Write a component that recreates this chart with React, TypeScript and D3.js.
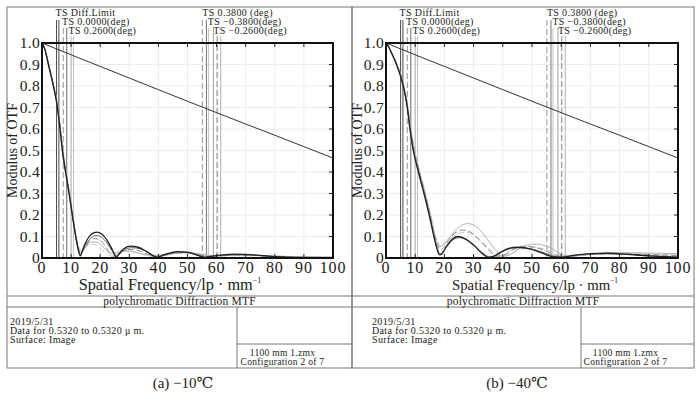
import React from 'react';
import * as d3 from 'd3';

// ---- data ----
const xTicks = [0, 10, 20, 30, 40, 50, 60, 70, 80, 90, 100];
const yTicks = [0, 0.1, 0.2, 0.3, 0.4, 0.5, 0.6, 0.7, 0.8, 0.9, 1.0];
const yTickLabels = ['0', '0.1', '0.2', '0.3', '0.4', '0.5', '0.6', '0.7', '0.8', '0.9', '1.0'];

const legendLabels = ['TS Diff.Limit', 'TS 0.0000(deg)', 'TS 0.2600(deg)'];
const legendLabels2 = ['TS 0.3800 (deg)', 'TS \u22120.3800(deg)', 'TS \u22120.2600(deg)'];
// legend marker lines, frequency units
const legendLinesA = [5.0, 5.8, 7.3, 8.5, 10.0, 10.8];
const legendLinesB = [55.1, 56.5, 57.2, 58.9, 60.2, 61.4];

const diffLimit: [number, number][] = [
  [0, 1], [10, 0.945], [20, 0.891], [30, 0.837], [40, 0.783], [50, 0.729],
  [60, 0.676], [70, 0.623], [80, 0.571], [90, 0.518], [100, 0.465],
];

// (a) -10 C
const a1: [number, number][] = [
  [0, 1], [1, 0.97], [2.2, 0.9], [3.9, 0.8], [5.3, 0.7], [6.2, 0.6], [7.0, 0.5], [8.1, 0.4],
  [9.3, 0.3], [10.4, 0.2], [11.6, 0.1], [12.6, 0.03], [13.2, 0.01], [14, 0.04], [15.5, 0.085],
  [17, 0.11], [18.8, 0.12], [20.5, 0.112], [22.5, 0.08], [24.3, 0.035], [25.5, 0.005],
  [26.5, 0.02], [28, 0.042], [30.3, 0.055], [33, 0.05], [36, 0.03], [39.5, 0.003], [41, 0.01],
  [43, 0.02], [46.5, 0.03], [50, 0.027], [53, 0.015], [56, 0.003], [58, 0.008], [62, 0.015],
  [66, 0.018], [70, 0.017], [75, 0.012], [80, 0.006], [85, 0.003], [90, 0.002], [100, 0.001],
];
const a2: [number, number][] = [
  [0, 1], [1, 0.97], [2.2, 0.9], [3.9, 0.8], [5.3, 0.7], [6.2, 0.6], [7.0, 0.5], [8.1, 0.4],
  [9.3, 0.3], [10.4, 0.2], [11.6, 0.1], [12.6, 0.035], [13.3, 0.015], [14.2, 0.04], [15.7, 0.075],
  [17, 0.095], [18.5, 0.105], [20.3, 0.098], [22.3, 0.07], [24.2, 0.03], [25.6, 0.005],
  [26.8, 0.02], [28.5, 0.04], [31, 0.048], [34, 0.042], [37, 0.022], [40, 0.004], [42, 0.012],
  [44, 0.02], [47, 0.027], [50.5, 0.024], [54, 0.012], [57, 0.003], [59, 0.008], [63, 0.013],
  [67, 0.016], [71, 0.015], [76, 0.01], [81, 0.005], [88, 0.003], [100, 0.002],
];
const a3: [number, number][] = [
  [0, 1], [1, 0.97], [2.3, 0.9], [4.0, 0.8], [5.4, 0.7], [6.3, 0.6], [7.1, 0.5], [8.2, 0.4],
  [9.4, 0.3], [10.5, 0.2], [11.6, 0.1], [12.5, 0.04], [13.3, 0.02], [14.3, 0.04], [15.8, 0.07],
  [18, 0.09], [19.8, 0.085], [21.5, 0.06], [23, 0.03], [24.5, 0.008], [25.8, 0.015],
  [27.5, 0.03], [30, 0.04], [33, 0.035], [36, 0.02], [39, 0.008], [42, 0.012], [45, 0.022],
  [49, 0.025], [53, 0.018], [57, 0.008], [61, 0.01], [66, 0.014], [72, 0.012], [80, 0.007],
  [90, 0.004], [100, 0.003],
];
const a4: [number, number][] = [
  [0, 1], [1, 0.97], [2.3, 0.9], [4.0, 0.8], [5.4, 0.7], [6.3, 0.6], [7.2, 0.5], [8.3, 0.4],
  [9.5, 0.3], [10.6, 0.2], [11.7, 0.1], [12.6, 0.045], [13.4, 0.025], [14.5, 0.04], [16, 0.065],
  [17.5, 0.075], [19.5, 0.068], [21.5, 0.045], [23.5, 0.022], [25.5, 0.025], [28, 0.035],
  [31, 0.03], [34, 0.02], [38, 0.012], [42, 0.016], [46, 0.024], [50, 0.026], [54, 0.02],
  [58, 0.012], [63, 0.012], [70, 0.013], [78, 0.01], [88, 0.006], [100, 0.004],
];
const a5: [number, number][] = [
  [0, 1], [1, 0.97], [2.3, 0.9], [4.1, 0.8], [5.5, 0.7], [6.4, 0.6], [7.2, 0.5], [8.3, 0.4],
  [9.5, 0.3], [10.6, 0.2], [11.7, 0.1], [12.7, 0.05], [13.6, 0.035], [15, 0.055], [17, 0.065],
  [18.8, 0.058], [20.5, 0.04], [22.5, 0.018], [24, 0.008], [26, 0.02], [29, 0.032],
  [32, 0.028], [35, 0.015], [38.5, 0.006], [42, 0.012], [46, 0.02], [51, 0.022], [55, 0.015],
  [59, 0.008], [65, 0.01], [72, 0.011], [80, 0.008], [90, 0.005], [100, 0.004],
];

// (b) -40 C
const b1: [number, number][] = [
  [0, 1], [1, 0.98], [2, 0.95], [3.6, 0.9], [5.9, 0.8], [7.3, 0.7], [8.2, 0.6], [9.35, 0.5],
  [11.1, 0.4], [13, 0.3], [14.8, 0.2], [16.4, 0.1], [17.5, 0.04], [18.3, 0.015], [19.2, 0.02],
  [20.5, 0.05], [22.5, 0.085], [24.7, 0.1], [27, 0.09], [30, 0.06], [33, 0.02], [35, 0.003],
  [36.5, 0.006], [39, 0.025], [42, 0.045], [45, 0.05], [50, 0.04], [54, 0.02], [57.5, 0.005],
  [60, 0.003], [64, 0.012], [70, 0.02], [76, 0.022], [82, 0.018], [90, 0.01], [100, 0.004],
];
const b2: [number, number][] = [
  [0, 1], [1, 0.98], [2, 0.95], [3.6, 0.9], [5.9, 0.8], [7.3, 0.7], [8.2, 0.6], [9.4, 0.5],
  [11.2, 0.4], [13.1, 0.3], [14.9, 0.2], [16.5, 0.1], [17.6, 0.045], [18.5, 0.02], [19.5, 0.03],
  [21, 0.055], [23, 0.085], [25.2, 0.095], [27.5, 0.085], [30.5, 0.055], [33.5, 0.02],
  [35.5, 0.005], [37.5, 0.01], [40, 0.03], [43, 0.045], [46, 0.048], [51, 0.038], [55, 0.02],
  [58.5, 0.006], [61, 0.005], [65, 0.013], [71, 0.019], [77, 0.02], [84, 0.015], [92, 0.008],
  [100, 0.004],
];
const b3: [number, number][] = [
  [0, 1], [1, 0.98], [2.1, 0.95], [3.7, 0.9], [6.0, 0.8], [7.4, 0.7], [8.4, 0.6], [9.6, 0.5],
  [11.4, 0.4], [13.3, 0.3], [15.1, 0.2], [16.7, 0.1], [17.8, 0.055], [18.6, 0.038], [19.8, 0.05],
  [21.5, 0.085], [24, 0.12], [26.5, 0.13], [29, 0.12], [32, 0.085], [35, 0.04], [38, 0.008],
  [40, 0.012], [43, 0.035], [47, 0.055], [51, 0.05], [55, 0.03], [59, 0.01], [62, 0.006],
  [67, 0.013], [74, 0.019], [80, 0.02], [88, 0.016], [100, 0.012],
];
const b4: [number, number][] = [
  [0, 1], [1, 0.98], [2.1, 0.95], [3.8, 0.9], [6.1, 0.8], [7.5, 0.7], [8.5, 0.6], [9.8, 0.5],
  [11.6, 0.4], [13.5, 0.3], [15.3, 0.2], [16.9, 0.1], [17.8, 0.07], [18.5, 0.052], [19.8, 0.065],
  [22, 0.1], [25, 0.145], [28, 0.16], [31, 0.145], [34, 0.1], [37, 0.045], [40, 0.008],
  [42, 0.012], [45, 0.04], [48, 0.058], [51, 0.065], [55, 0.055], [58.5, 0.03], [61, 0.012],
  [64, 0.01], [70, 0.018], [78, 0.025], [86, 0.024], [100, 0.02],
];
const b5: [number, number][] = [
  [0, 1], [1, 0.98], [2.1, 0.95], [3.8, 0.9], [6.1, 0.8], [7.5, 0.7], [8.5, 0.6], [9.7, 0.5],
  [11.5, 0.4], [13.4, 0.3], [15.2, 0.2], [16.8, 0.1], [17.8, 0.065], [18.6, 0.055], [20, 0.065],
  [22.5, 0.095], [25, 0.115], [27.5, 0.12], [30.5, 0.1], [33.5, 0.065], [36.5, 0.03],
  [39.5, 0.01], [42.5, 0.02], [46, 0.04], [50, 0.05], [54, 0.042], [58, 0.022], [61, 0.01],
  [65, 0.012], [72, 0.018], [80, 0.021], [90, 0.017], [100, 0.013],
];

const seriesA = [a5, a4, a3, a2, a1];
const seriesB = [b5, b4, b3, b2, b1];
const seriesStyle = [
  { stroke: '#c4c4c4', dash: '6,3' },
  { stroke: '#b0b0b0', dash: '' },
  { stroke: '#8a8a8a', dash: '6,3' },
  { stroke: '#666', dash: '' },
  { stroke: '#222', dash: '' },
];
const legendStyle = [
  { stroke: '#333', dash: '' },
  { stroke: '#333', dash: '' },
  { stroke: '#888', dash: '6,3' },
  { stroke: '#555', dash: '' },
  { stroke: '#aaa', dash: '' },
  { stroke: '#bbb', dash: '' },
];
const legendStyleB = [
  { stroke: '#888', dash: '6,3' },
  { stroke: '#666', dash: '' },
  { stroke: '#bbb', dash: '' },
  { stroke: '#999', dash: '' },
  { stroke: '#777', dash: '6,3' },
  { stroke: '#aaa', dash: '' },
];

const serif = '"Liberation Serif", "DejaVu Serif", serif';

type PanelProps = {
  left: number;
  right: number;
  plotLeft: number;
  plotRight: number;
  series: [number, number][][];
  caption: string;
  captionX: number;
  textInset: number;
  divider: number;
  titleX: number;
  titleSize: number;
};

const Panel = ({ left, right, plotLeft, plotRight, series, caption, captionX, textInset, divider, titleX, titleSize }: PanelProps) => {
  const top = 7;
  const plotTop = 43;
  const plotBottom = 258;
  const x = d3.scaleLinear().domain([0, 100]).range([plotLeft, plotRight]);
  const y = d3.scaleLinear().domain([0, 1]).range([plotBottom, plotTop]);
  const line = d3.line<[number, number]>()
    .x(d => x(d[0]))
    .y(d => y(d[1]))
    .curve(d3.curveMonotoneX);
  const mid = (left + right) / 2;
  const legendY = [16, 25, 34];
  const legendLineTop = [20, 20, 28, 28, 36, 36];
  const boxRightX = (divider + right) / 2 - 12;

  return (
    <g>
      {/* outer frame */}
      <rect x={left} y={top} width={right - left} height={368 - top} fill="none" stroke="#777" strokeWidth={1} />
      <line x1={left} x2={right} y1={296} y2={296} stroke="#777" />
      <line x1={left} x2={right} y1={307} y2={307} stroke="#777" />
      <line x1={divider} x2={divider} y1={307} y2={368} stroke="#777" />
      <line x1={divider} x2={right} y1={344} y2={344} stroke="#777" />

      {/* grid */}
      {xTicks.map(t => (
        <line key={'gx' + t} x1={x(t)} x2={x(t)} y1={plotTop} y2={plotBottom} stroke="#ececec" />
      ))}
      {yTicks.map(t => (
        <line key={'gy' + t} x1={plotLeft} x2={plotRight} y1={y(t)} y2={y(t)} stroke="#ececec" />
      ))}

      {/* legend marker lines */}
      {legendLinesA.map((v, i) => (
        <line key={'la' + i} x1={x(v)} x2={x(v)} y1={legendLineTop[i]} y2={plotBottom}
          stroke={legendStyle[i].stroke} strokeDasharray={legendStyle[i].dash} strokeWidth={0.9} />
      ))}
      {legendLinesB.map((v, i) => (
        <line key={'lb' + i} x1={x(v)} x2={x(v)} y1={legendLineTop[i]} y2={plotBottom}
          stroke={legendStyleB[i].stroke} strokeDasharray={legendStyleB[i].dash} strokeWidth={0.9} />
      ))}

      {/* curves */}
      {series.map((s, i) => (
        <path key={'s' + i} d={line(s) || ''} fill="none" stroke={seriesStyle[i].stroke}
          strokeDasharray={seriesStyle[i].dash} strokeWidth={i === 4 ? 1.3 : 1} />
      ))}
      <path d={line(diffLimit) || ''} fill="none" stroke="#333" strokeWidth={1} />

      {/* ticks */}
      {xTicks.map(t => (
        <g key={'tx' + t}>
          <line x1={x(t)} x2={x(t)} y1={plotBottom} y2={plotBottom - 4} stroke="#222" />
          <line x1={x(t)} x2={x(t)} y1={plotTop} y2={plotTop + 4} stroke="#222" />
          <text x={x(t)} y={plotBottom + 15} textAnchor="middle" fontSize={16} letterSpacing={0.8}
            fontFamily={serif} fill="#222">{t}</text>
        </g>
      ))}
      {yTicks.map((t, i) => (
        <g key={'ty' + i}>
          <line x1={plotRight} x2={plotRight - 4} y1={y(t)} y2={y(t)} stroke="#222" />
          <text x={plotLeft - 2} y={y(t) + 5} textAnchor="end" fontSize={15.5} letterSpacing={0.3}
            fontFamily={serif} fill="#222">{yTickLabels[i]}</text>
        </g>
      ))}

      <rect x={plotLeft} y={plotTop} width={plotRight - plotLeft} height={plotBottom - plotTop}
        fill="none" stroke="#111" strokeWidth={2} />

      {/* legend labels */}
      {legendLabels.map((l, i) => (
        <text key={'lt' + i} x={x(legendLinesA[0]) + i * 6.5 - 1} y={legendY[i]} fontSize={10}
          letterSpacing={0.35} fontFamily={serif} fill="#222">{l}</text>
      ))}
      {legendLabels2.map((l, i) => (
        <text key={'lt2' + i} x={x(legendLinesB[0]) + i * 5.5} y={legendY[i]} fontSize={10}
          letterSpacing={0.35} fontFamily={serif} fill="#222">{l}</text>
      ))}

      {/* axis titles */}
      <text transform={`translate(${left + 10},${(plotTop + plotBottom) / 2}) rotate(-90)`} textAnchor="middle"
        fontSize={14} fontFamily={serif} fill="#222">Modulus of OTF</text>
      <text x={titleX} y={plotBottom + 32} textAnchor="middle" fontSize={titleSize} fontFamily={serif} fill="#222">
        Spatial Frequency/lp · mm<tspan dy={-7} fontSize={titleSize * 0.5}>−1</tspan>
      </text>

      {/* info box */}
      <text x={mid} y={305} textAnchor="middle" fontSize={11.5} letterSpacing={0.2} fontFamily={serif} fill="#222">polychromatic Diffraction MTF</text>
      <text x={left + textInset} y={325} fontSize={10} letterSpacing={0.35} fontFamily={serif} fill="#222">2019/5/31</text>
      <text x={left + textInset} y={334} fontSize={10} letterSpacing={0.35} fontFamily={serif} fill="#222">Data for 0.5320 to 0.5320 μ m.</text>
      <text x={left + textInset} y={343} fontSize={10} letterSpacing={0.35} fontFamily={serif} fill="#222">Surface: Image</text>
      <text x={boxRightX} y={356} textAnchor="middle" fontSize={9.5} letterSpacing={0.3} fontFamily={serif} fill="#222">1100 mm 1.zmx</text>
      <text x={boxRightX} y={365} textAnchor="middle" fontSize={9.5} letterSpacing={0.3} fontFamily={serif} fill="#222">Configuration 2 of 7</text>

      <text x={captionX} y={388} textAnchor="middle" fontSize={15} fontFamily={serif} fill="#222">{caption}</text>
    </g>
  );
};

const App = () => {
  return (
    <svg width={700} height={395} style={{ position: 'absolute', left: 0, top: 0, background: '#fff' }}>
      <rect width={700} height={395} fill="#fff" />
      <Panel left={7} right={352} plotLeft={42} plotRight={333} series={seriesA}
        caption="(a) −10℃" captionX={183} textInset={3} divider={237} titleX={170} titleSize={16.3} />
      <Panel left={352} right={694} plotLeft={386} plotRight={678} series={seriesB}
        caption="(b) −40℃" captionX={517} textInset={20} divider={581} titleX={535} titleSize={14.8} />
    </svg>
  );
};

export default App;
